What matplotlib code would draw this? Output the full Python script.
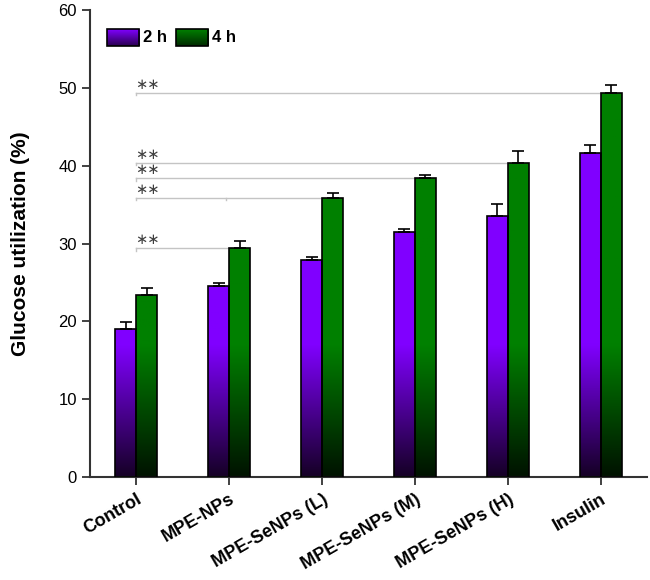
import numpy as np
import matplotlib
matplotlib.use('Agg')
import matplotlib.pyplot as plt
from matplotlib.colors import LinearSegmentedColormap
from matplotlib.patches import Rectangle

plt.rcParams['font.family'] = ['Liberation Sans', 'DejaVu Sans']

groups = ['Control', 'MPE-NPs', 'MPE-SeNPs (L)', 'MPE-SeNPs (M)', 'MPE-SeNPs (H)', 'Insulin']
series = ['2 h', '4 h']
vals_2h = [19.0, 24.5, 27.9, 31.5, 33.5, 41.6]
err_2h = [0.9, 0.45, 0.4, 0.4, 1.6, 1.1]
vals_4h = [23.4, 29.4, 35.9, 38.4, 40.4, 49.4]
err_4h = [0.9, 0.9, 0.55, 0.35, 1.5, 1.0]
# significance: control vs group index (4 h)
sig_targets = [1, 2, 3, 4, 5]
sig_labels = ['\u2217\u2217'] * 5

top_colors = ['#8000ff', '#008000']
bottom_colors = ['#150025', '#001200']

fig = plt.figure(figsize=(6.5, 5.8), dpi=100)
ax = fig.add_axes([90 / 650, 103 / 580, 557 / 650, 467 / 580])
ax.set_xlim(-0.5, 5.5)
ax.set_ylim(0, 60)

width = 0.226
fade_top = 17.0  # value above which the bar is full colour


def gradient_bar(ax, x0, x1, y0, y1, top, bottom, fade=fade_top):
    cmap = LinearSegmentedColormap.from_list('g', [bottom, top])
    ys = np.linspace(y0, y1, 200)
    frac = np.clip((ys - y0) / fade, 0, 1)
    img = ax.imshow(frac.reshape(-1, 1), cmap=cmap, vmin=0, vmax=1,
                    extent=[x0, x1, y0, y1], origin='lower', aspect='auto', zorder=2)
    rect = Rectangle((x0, y0), x1 - x0, y1 - y0, fill=False, ec='black', lw=1.2, zorder=3)
    ax.add_patch(rect)
    img.set_clip_path(rect)


x = np.arange(len(groups))
for k, (vals, errs) in enumerate([(vals_2h, err_2h), (vals_4h, err_4h)]):
    offs = (k - 0.5) * width
    for xi, v in zip(x, vals):
        gradient_bar(ax, xi + offs - width / 2, xi + offs + width / 2, 0, v,
                     top_colors[k], bottom_colors[k])
    ax.errorbar(x + offs, vals, yerr=[np.zeros(len(vals)), errs], fmt='none',
                ecolor='black', elinewidth=1.2, capsize=4, capthick=1.2, zorder=4)

# significance brackets
sig_color = '#c4c4c4'
for t, lab in zip(sig_targets, sig_labels):
    y = vals_4h[t]
    ax.plot([x[0], x[t]], [y, y], color=sig_color, lw=1.0, zorder=1)
    ax.plot([x[0], x[0]], [y, y - 0.35], color=sig_color, lw=1.0, zorder=1)
    ax.text(x[0] - 0.01, y + 0.1, lab, ha='left', va='bottom', fontsize=10.5,
            color='#404040', family='DejaVu Sans')
# extra tick on the (L) bracket
ax.plot([x[1] - 0.03, x[1] - 0.03], [vals_4h[2], vals_4h[2] - 0.35], color=sig_color, lw=1.0)

# legend drawn by hand with gradient boxes
leg_x = [-0.313, 0.43]
for k, lab in enumerate(series):
    x0 = leg_x[k]
    x1 = x0 + 0.345
    y0, y1 = 55.4, 57.5
    cmap = LinearSegmentedColormap.from_list('l', ['#2a0050' if k == 0 else '#002a00', top_colors[k]])
    img = ax.imshow(np.linspace(0, 1, 50).reshape(-1, 1), cmap=cmap, extent=[x0, x1, y0, y1],
                    origin='lower', aspect='auto', zorder=2)
    ax.add_patch(Rectangle((x0, y0), x1 - x0, y1 - y0, fill=False, ec='black', lw=1.2, zorder=3))
    ax.text(x1 + 0.04, (y0 + y1) / 2, lab, ha='left', va='center', fontsize=12, fontweight='bold')

ax.set_xticks(x)
ax.set_xticklabels(groups, rotation=30, ha='right', rotation_mode='anchor',
                   fontsize=13, fontweight='bold')
ax.set_yticks(np.arange(0, 61, 10))
ax.tick_params(axis='y', labelsize=12, length=6, width=1.3, direction='out', color='#333333')
ax.tick_params(axis='x', length=6, width=1.3, direction='out', color='#333333', pad=4)
ax.set_ylabel('Glucose utilization (%)', fontsize=15, fontweight='bold', labelpad=20)

for s in ['top', 'right']:
    ax.spines[s].set_visible(False)
for s in ['left', 'bottom']:
    ax.spines[s].set_linewidth(1.5)
    ax.spines[s].set_color('#333333')

fig.savefig('out.png', dpi=100)
